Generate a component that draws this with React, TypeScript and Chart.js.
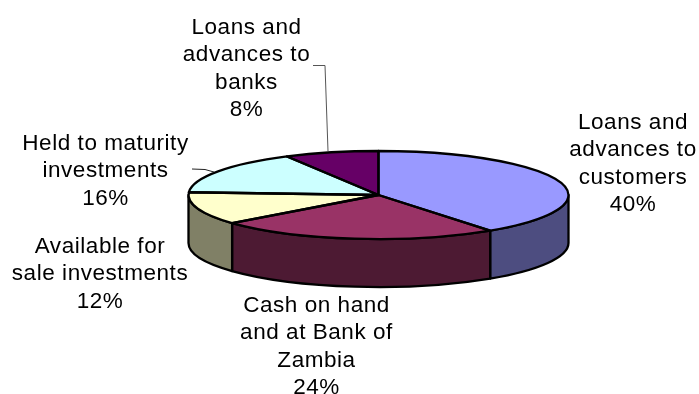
import React, { useEffect, useRef } from "react";
import { Chart, registerables } from "chart.js";

Chart.register(...registerables);

const WIDTH = 699;
const HEIGHT = 394;

const categories = [
  "Loans and advances to customers",
  "Cash on hand and at Bank of Zambia",
  "Available for sale investments",
  "Held to maturity investments",
  "Loans and advances to banks",
];
const shares = [40, 24, 12, 16, 8];
const topColors = ["#9999FF", "#993366", "#FFFFCC", "#CCFFFF", "#660066"];
const wallColors = ["#4D4D80", "#4D1A33", "#808066", "#668080", "#330033"];

// Wrapped category names as they are set beside the pie.
const labelLines = [
  ["Loans and", "advances to", "customers"],
  ["Cash on hand", "and at Bank of", "Zambia"],
  ["Available for", "sale investments"],
  ["Held to maturity", "investments"],
  ["Loans and", "advances to", "banks"],
];
const labelCentersX = [633, 316.5, 100, 105.5, 246.5];
const labelFirstBaselines = [129, 312, 253, 150, 34];

const SQUASH = 44 / 190;
const DEPTH = 48;
const FONT = '22.5px "Liberation Sans", Arial, sans-serif';
const TRACKING = "0.55px";
const LINE_GAP = 27.3;
const OUTLINE = 2.3;

function tracePie(ctx: CanvasRenderingContext2D, x: number, y: number, r: number, a0: number, a1: number) {
  ctx.beginPath();
  ctx.moveTo(x, y);
  ctx.ellipse(x, y, r, r * SQUASH, 0, a0, a1);
  ctx.closePath();
}

const pie3d = {
  id: "pie3d",
  beforeDatasetsDraw(chart: any) {
    const ctx: CanvasRenderingContext2D = chart.ctx;
    const arcs = chart.getDatasetMeta(0).data;
    const { x, y, outerRadius: r } = arcs[0];

    // Side wall: only the part of each slice facing the viewer is visible.
    ctx.save();
    ctx.lineWidth = OUTLINE;
    ctx.strokeStyle = "#000";
    ctx.lineJoin = "round";
    arcs.forEach((arc: any, i: number) => {
      const from = Math.max(arc.startAngle, 0);
      const to = Math.min(arc.endAngle, Math.PI);
      if (to <= from) return;
      ctx.beginPath();
      ctx.ellipse(x, y, r, r * SQUASH, 0, from, to);
      ctx.ellipse(x, y + DEPTH, r, r * SQUASH, 0, to, from, true);
      ctx.closePath();
      ctx.fillStyle = wallColors[i];
      ctx.fill();
      ctx.stroke();
    });
    ctx.restore();

    // The library paints the slices as circles; flatten them into the top face.
    ctx.save();
    ctx.translate(x, y);
    ctx.scale(1, SQUASH);
    ctx.translate(-x, -y);
  },
  afterDatasetsDraw(chart: any) {
    const ctx: CanvasRenderingContext2D = chart.ctx;
    ctx.restore();
    const arcs = chart.getDatasetMeta(0).data;

    ctx.save();
    ctx.lineWidth = OUTLINE;
    ctx.strokeStyle = "#000";
    ctx.lineJoin = "round";
    arcs.forEach((arc: any) => {
      tracePie(ctx, arc.x, arc.y, arc.outerRadius, arc.startAngle, arc.endAngle);
      ctx.stroke();
    });

    // Leader lines for the two labels set away from their slices.
    ctx.lineWidth = 1;
    ctx.strokeStyle = "#555";
    ctx.beginPath();
    ctx.moveTo(313, 65.5);
    ctx.lineTo(325, 65.5);
    ctx.lineTo(328, 151);
    ctx.stroke();
    ctx.strokeStyle = "#222";
    ctx.beginPath();
    ctx.moveTo(192, 169);
    ctx.lineTo(205, 169.5);
    ctx.lineTo(214, 172);
    ctx.stroke();

    // Category name with its share underneath.
    ctx.fillStyle = "#000";
    ctx.font = FONT;
    (ctx as any).letterSpacing = TRACKING;
    ctx.textAlign = "center";
    ctx.textBaseline = "alphabetic";
    labelLines.forEach((lines, i) => {
      const rows = [...lines, `${shares[i]}%`];
      rows.forEach((row, k) => {
        ctx.fillText(row, labelCentersX[i], labelFirstBaselines[i] + k * LINE_GAP);
      });
    });
    ctx.restore();
  },
};

export default function App() {
  const ref = useRef<HTMLCanvasElement>(null);

  useEffect(() => {
    const chart = new Chart(ref.current!, {
      type: "pie",
      data: {
        labels: categories,
        datasets: [
          {
            data: shares,
            backgroundColor: topColors,
            borderWidth: 0,
            clip: false,
          } as any,
        ],
      },
      options: {
        responsive: false,
        animation: false,
        layout: { padding: { left: 188, right: 130, top: 5, bottom: 9 } },
        plugins: { legend: { display: false }, tooltip: { enabled: false } },
      },
      plugins: [pie3d],
    });
    return () => chart.destroy();
  }, []);

  return (
    <div style={{ position: "absolute", left: 0, top: 0, width: WIDTH, height: HEIGHT, background: "#fff" }}>
      <canvas ref={ref} width={WIDTH} height={HEIGHT} style={{ display: "block" }} />
    </div>
  );
}
